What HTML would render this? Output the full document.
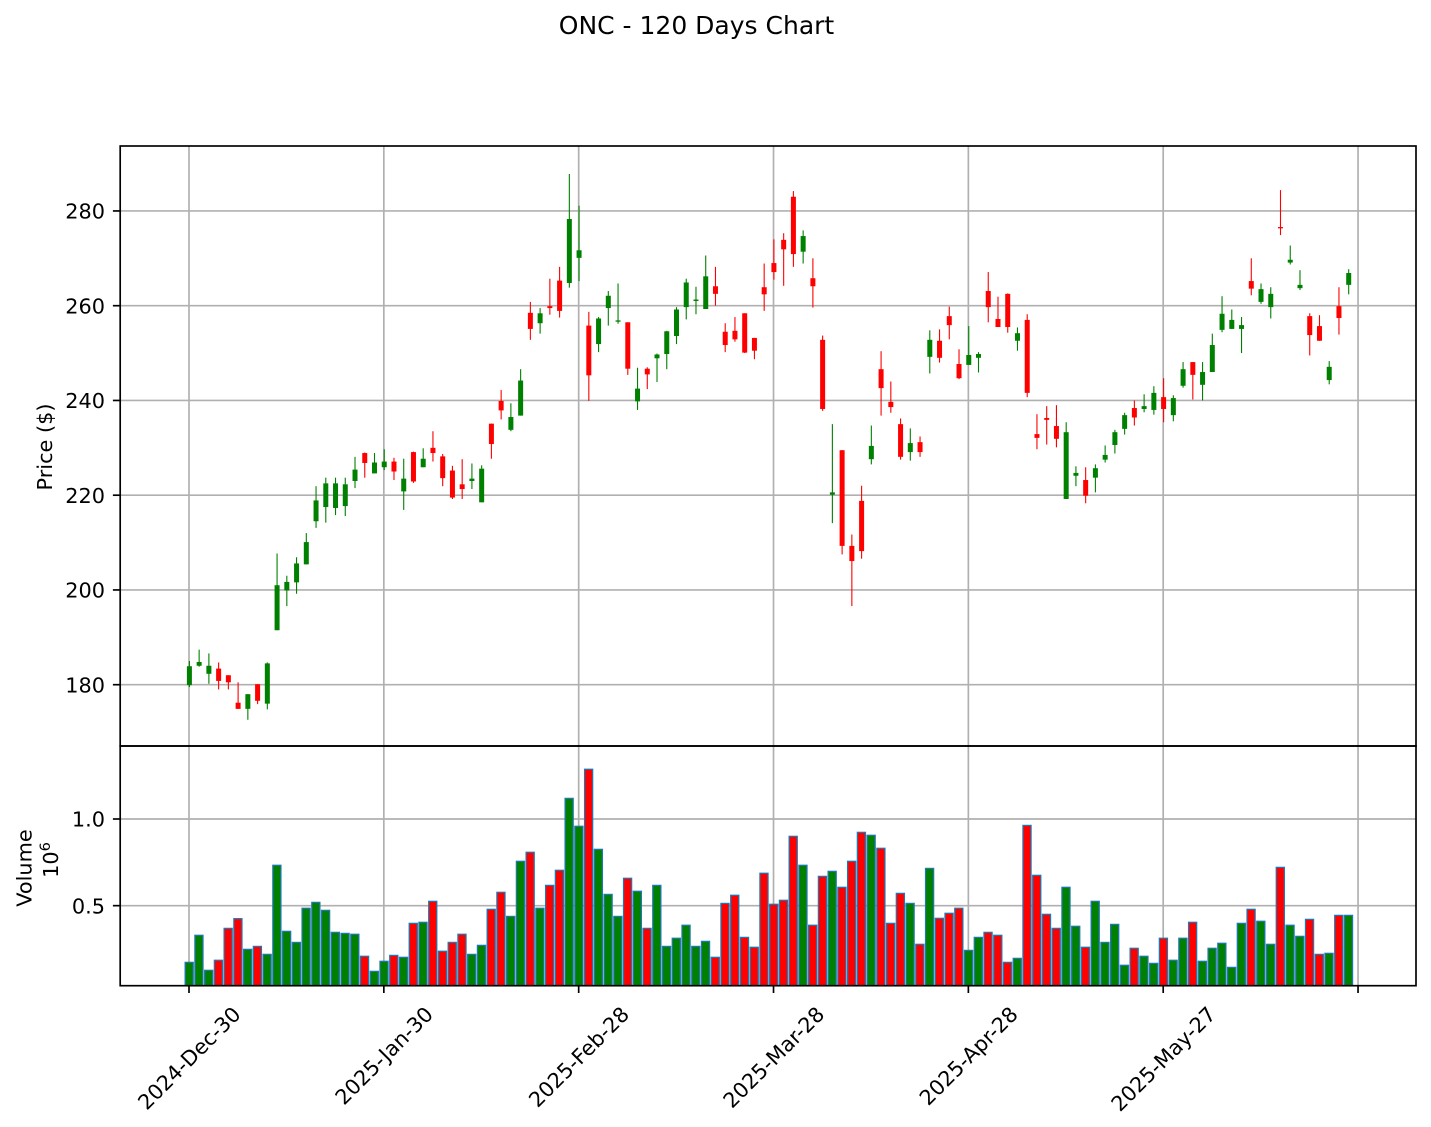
<!DOCTYPE html>
<html lang="en">
<head>
<meta charset="utf-8">
<title>ONC - 120 Days Chart</title>
<style>
html,body{margin:0;padding:0;background:#fff;width:1431px;height:1127px;overflow:hidden}
svg{display:block}
text{font-family:"DejaVu Sans","Liberation Sans",sans-serif;fill:#000}
</style>
</head>
<body>
<svg id="chart" xmlns="http://www.w3.org/2000/svg" width="1431" height="1127" viewBox="0 0 1431 1127">
  <defs>
    <clipPath id="vol-clip"><rect x="120" y="746" width="1296" height="240"></rect></clipPath>
  </defs>
  <text x="696.5" y="34" text-anchor="middle" style="font-size:25px">ONC - 120 Days Chart</text>
  <text transform="translate(52 447) rotate(-90)" text-anchor="middle" style="font-size:20.83px">Price ($)</text>
  <text transform="translate(31.5 868) rotate(-90)" text-anchor="middle" style="font-size:20.83px">Volume</text>
  <text transform="translate(58 860) rotate(-90)" text-anchor="middle" style="font-size:20.83px">10<tspan dy="-8" style="font-size:14.6px">6</tspan></text>
</svg>
<script>
const priceTicks = [180, 200, 220, 240, 260, 280];
const volumeTicks = [0.5, 1.0];
const dateTickIndex = [0, 20, 40, 60, 80, 100, 120];
const dateTickLabels = ["2024-Dec-30", "2025-Jan-30", "2025-Feb-28", "2025-Mar-28", "2025-Apr-28", "2025-May-27", ""];
const opens = [
179.9,184.0,182.3,183.4,182.0,176.2,174.9,180.1,176.0,191.5,
199.9,201.6,205.4,214.5,217.5,217.3,217.7,223.0,228.9,224.6,
225.9,227.1,220.8,229.1,225.9,230.0,228.2,225.2,222.3,223.0,
218.5,235.1,239.9,233.8,236.8,258.5,256.3,259.9,265.3,264.8,
270.1,255.8,251.9,259.5,256.7,256.5,239.8,246.7,248.9,249.8,
253.6,259.7,261.0,259.3,264.1,254.5,254.7,258.4,253.2,263.9,
269.0,273.9,283.0,271.4,265.8,252.8,220.1,229.5,209.3,218.8,
227.6,246.6,239.7,235.0,229.1,231.2,249.2,252.6,257.8,247.7,
247.5,249.0,263.1,257.2,262.5,252.6,257.0,232.9,236.3,234.6,
219.2,224.1,223.2,223.7,227.5,230.6,234.0,238.4,238.2,238.0,
240.7,236.9,243.1,248.1,243.3,246.0,254.9,255.1,255.1,265.2,
260.8,259.7,276.6,269.1,263.7,257.8,255.7,244.3,259.9,264.4];
const closes = [
183.9,184.8,184.0,180.8,180.5,174.9,178.0,176.6,184.5,201.0,
201.7,205.6,210.1,218.9,222.5,222.5,222.3,225.4,226.8,226.9,
227.1,225.0,223.5,222.9,227.7,228.9,223.6,219.5,221.3,223.5,
225.6,230.8,237.9,236.5,244.2,255.1,258.4,259.5,258.9,278.3,
271.7,245.3,257.3,262.1,256.9,246.7,242.5,245.5,249.7,254.6,
259.2,264.9,261.3,266.2,262.5,251.7,252.9,250.1,250.5,262.4,
267.1,271.9,270.9,274.7,264.1,238.2,220.6,209.3,206.1,208.2,
230.4,242.6,238.6,228.1,231.0,229.1,252.8,249.0,255.9,244.7,
249.6,249.8,259.7,255.5,255.5,254.2,241.6,232.1,235.9,231.9,
233.3,224.7,219.9,225.7,228.5,233.3,236.9,236.4,238.8,241.6,
238.2,240.5,246.6,245.4,246.0,251.7,258.3,257.0,255.9,263.6,
263.5,262.5,276.4,269.7,264.4,253.8,252.6,247.1,257.4,266.9];
const highs = [
185.0,187.4,186.6,184.7,182.0,180.5,178.0,180.1,184.7,207.7,
203.0,206.9,212.0,221.9,223.7,223.7,223.7,228.1,229.0,228.9,
229.7,227.9,227.7,229.2,229.9,233.5,228.7,226.2,227.6,226.7,
226.3,235.1,242.2,239.4,246.6,260.8,259.5,265.7,268.2,287.8,
281.1,258.7,257.6,263.1,264.7,256.5,246.9,247.0,249.9,254.7,
259.7,265.7,264.0,270.6,268.2,256.3,257.6,258.4,253.2,268.9,
274.0,275.3,284.2,275.9,270.0,253.7,235.0,229.5,211.7,222.0,
234.7,250.4,244.0,236.2,234.1,232.4,254.8,255.0,259.8,250.8,
255.7,250.2,267.1,261.9,262.6,255.4,258.2,237.1,238.8,239.0,
235.4,226.1,225.9,226.5,230.5,233.8,237.4,240.0,241.3,243.0,
244.7,241.1,248.1,248.1,248.1,254.1,262.0,259.2,257.6,270.0,
264.7,263.9,284.4,272.7,267.5,258.4,258.0,248.3,263.9,267.7];
const lows = [
179.5,183.8,180.2,179.0,179.0,174.9,172.6,175.9,174.8,191.5,
196.6,199.2,205.4,213.1,214.2,215.8,215.6,221.5,223.7,224.6,
225.3,223.2,216.9,222.6,225.9,227.1,221.9,219.2,219.2,221.3,
218.5,227.7,236.0,233.5,236.8,252.8,254.1,258.1,257.5,263.8,
265.2,239.9,250.2,255.8,256.2,245.4,238.0,242.4,243.9,246.6,
251.9,257.1,258.2,259.3,260.0,250.2,252.4,250.0,248.7,258.9,
265.5,264.2,268.2,268.9,259.6,237.8,214.1,207.5,196.6,206.6,
226.5,236.8,237.4,227.5,227.3,228.1,245.7,248.0,252.9,244.5,
247.5,245.9,256.5,255.5,254.3,250.5,240.7,229.7,230.7,230.1,
219.2,221.9,218.3,220.6,226.9,228.8,232.8,234.7,237.5,237.0,
235.4,235.6,242.7,240.2,240.0,246.0,254.4,255.1,250.0,262.2,
260.4,257.3,274.9,268.7,263.3,249.5,252.6,243.4,253.9,262.4];
const volumes = [
.173,.329,.127,.185,.369,.425,.248,.265,.219,.733,
.352,.288,.485,.519,.473,.346,.340,.335,.208,.121,
.179,.213,.202,.398,.404,.525,.237,.288,.335,.219,
.271,.479,.577,.438,.756,.808,.485,.617,.704,1.119,
.958,1.287,.825,.565,.438,.658,.583,.369,.617,.265,
.312,.387,.265,.294,.202,.513,.560,.317,.260,.687,
.508,.531,.900,.733,.387,.669,.698,.606,.756,.923,
.906,.831,.398,.571,.513,.277,.715,.427,.456,.485,
.242,.317,.346,.329,.173,.196,.963,.675,.450,.369,
.606,.381,.260,.525,.288,.392,.156,.254,.208,.167,
.312,.185,.312,.404,.179,.254,.283,.144,.398,.479,
.410,.277,.721,.387,.323,.421,.219,.225,.444,.444];

const NS = 'http://www.w3.org/2000/svg';
const svg = document.getElementById('chart');
const LEFT = 120.2, RIGHT = 1416, TOP = 146, MID = 746, BOTTOM = 985.7;
const xAxis = i => 189 + 9.742 * i;
const priceAxis = p => 684.7 - (p - 180) * 4.7375;
const volumeAxis = v => 819 + (1 - v) * 173.33;

function make(tag, attrs, parent) {
  const el = document.createElementNS(NS, tag);
  for (const k in attrs) el.setAttribute(k, attrs[k]);
  (parent || svg).appendChild(el);
  return el;
}

const gridLayer = make('g', {});


const GRID = {stroke: '#b0b0b0', 'stroke-width': 1.67};

dateTickIndex.forEach(function (t) {
  const a = make('line', Object.assign({x1: xAxis(t), x2: xAxis(t), y1: TOP, y2: MID}, GRID), gridLayer);
  
  
  const b = make('line', Object.assign({x1: xAxis(t), x2: xAxis(t), y1: MID, y2: BOTTOM}, GRID), gridLayer);
  
  
});
priceTicks.forEach(function (p) {
  const l = make('line', Object.assign({x1: LEFT, x2: RIGHT, y1: priceAxis(p), y2: priceAxis(p)}, GRID), gridLayer);
  
  
});
volumeTicks.forEach(function (v) {
  const l = make('line', Object.assign({x1: LEFT, x2: RIGHT, y1: volumeAxis(v), y2: volumeAxis(v)}, GRID), gridLayer);
  
  
});

const volumeLayer = make('g', {'clip-path': 'url(#vol-clip)'});


const BAR_W = 8.1;
volumes.forEach(function (v, i) {
  const up = closes[i] >= opens[i];
  const y = volumeAxis(v);
  const bar = make('rect', {
    x: xAxis(i) - BAR_W / 2 + 0.2, y: y, width: BAR_W, height: BOTTOM + 4 - y,
    fill: up ? '#008000' : '#ff0000', stroke: '#1f77b4', 'stroke-width': 1.25
  }, volumeLayer);
  
  
});

const candleLayer = make('g', {});


const BODY_W = 5.0;
opens.forEach(function (o, i) {
  const c = closes[i];
  const color = c >= o ? '#008000' : '#ff0000';
  const x = xAxis(i) + 0.4;
  const wick = make('line', {
    x1: x, x2: x, y1: priceAxis(highs[i]), y2: priceAxis(lows[i]),
    stroke: color, 'stroke-width': 1.1
  }, candleLayer);
  
  
  const top = priceAxis(Math.max(o, c));
  const h = Math.max(priceAxis(Math.min(o, c)) - top, 1.3);
  const body = make('rect', {x: x - BODY_W / 2, y: top, width: BODY_W, height: h, fill: color}, candleLayer);
  
  
});

const axisLayer = make('g', {});


const INK = {stroke: '#000', 'stroke-width': 1.67};
const priceFrame = make('rect', {x: LEFT, y: TOP, width: RIGHT - LEFT, height: MID - TOP, fill: 'none', stroke: '#000', 'stroke-width': 1.67}, axisLayer);


const volumeFrame = make('rect', {x: LEFT, y: MID, width: RIGHT - LEFT, height: BOTTOM - MID, fill: 'none', stroke: '#000', 'stroke-width': 1.67}, axisLayer);



function yTick(y, label, name) {
  const t = make('line', Object.assign({x1: LEFT - 7.3, x2: LEFT, y1: y, y2: y}, INK), axisLayer);
  
  
  const s = make('text', {x: 105, y: y + 7.6, 'text-anchor': 'end'}, axisLayer);
  s.setAttribute('style', 'font-size:20.83px');
  
  
  s.textContent = label;
}
priceTicks.forEach(function (p) { yTick(priceAxis(p), String(p), 'price'); });
volumeTicks.forEach(function (v) { yTick(volumeAxis(v), v.toFixed(1), 'volume'); });

dateTickIndex.forEach(function (t, k) {
  const x = xAxis(t);
  const m = make('line', Object.assign({x1: x, x2: x, y1: BOTTOM, y2: BOTTOM + 7.3}, INK), axisLayer);
  
  
  if (!dateTickLabels[k]) return;
  const s = make('text', {'text-anchor': 'middle'}, axisLayer);
  s.setAttribute('style', 'font-size:20.83px');
  
  
  s.textContent = dateTickLabels[k];
  const half = (s.getComputedTextLength() + 19) * 0.7071 / 2;
  const cy = 1003.5 + half;
  s.setAttribute('transform', 'translate(' + x + ' ' + cy + ') rotate(-45) translate(0 7.6)');
});
</script>
</body>
</html>
